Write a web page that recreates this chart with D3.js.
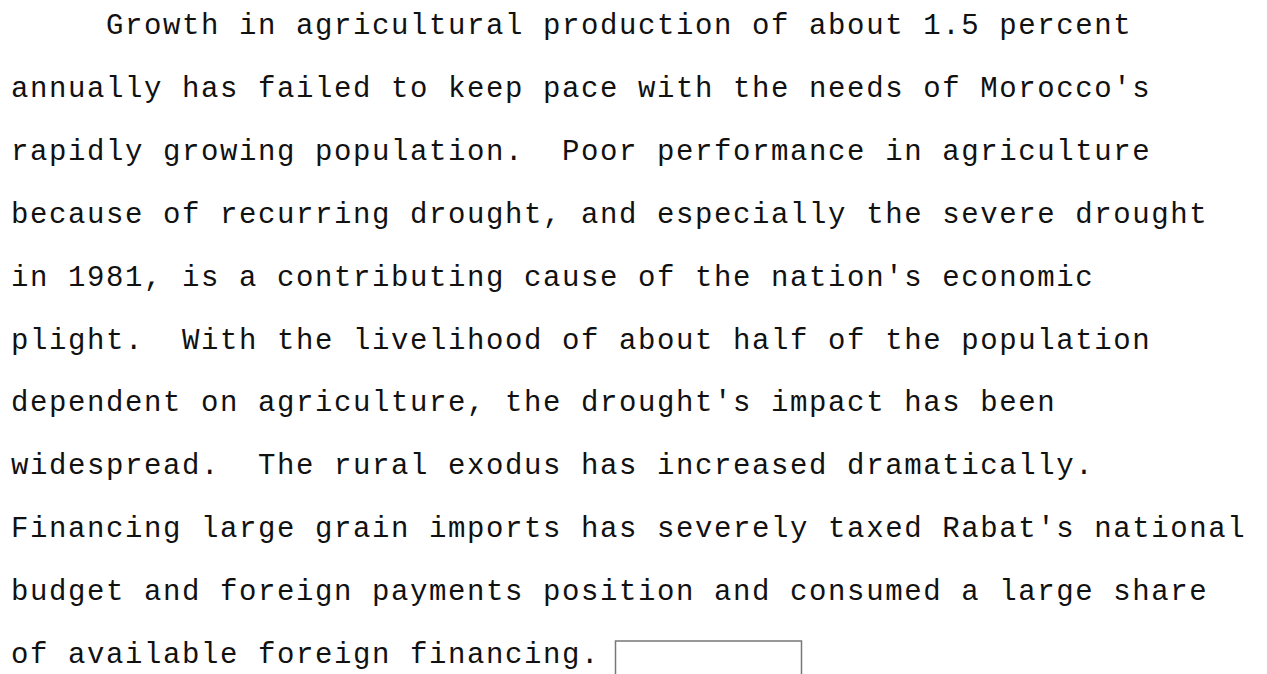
<!DOCTYPE html>
<html>
<head>
<meta charset="utf-8">
<script src="https://cdn.jsdelivr.net/npm/d3@7"></script>
<style>
  html, body { margin: 0; padding: 0; background: #fff; }
  svg { display: block; }
  .line { font-family: "Liberation Mono", "DejaVu Sans Mono", monospace; font-size: 29px; letter-spacing: 1.6px; fill: #111; }
</style>
</head>
<body>
<svg id="page" width="1267" height="674"></svg>
<script>
// typed paragraph, one entry per printed line (first line carries the tab indent)
const LINES = [
  '     Growth in agricultural production of about 1.5 percent',
  "annually has failed to keep pace with the needs of Morocco's",
  'rapidly growing population.  Poor performance in agriculture',
  'because of recurring drought, and especially the severe drought',
  "in 1981, is a contributing cause of the nation's economic",
  'plight.  With the livelihood of about half of the population',
  "dependent on agriculture, the drought's impact has been",
  'widespread.  The rural exodus has increased dramatically.',
  "Financing large grain imports has severely taxed Rabat's national",
  'budget and foreign payments position and consumed a large share',
  'of available foreign financing.'
];
// blank redaction box after the last line, in character columns
const BOX_COLS = [32, 42];

const W = 1267, H = 674;
const svg = d3.select('#page');

// baselines of first and last typed line
const y = d3.scaleLinear().domain([0, LINES.length - 1]).range([34, 663]);
// one column = one typewriter character (pitch ~19px)
const col = d3.scaleLinear().domain([0, 65]).range([11, 1246]);

svg.selectAll('text.line')
  .data(LINES)
  .join('text')
  .attr('class', 'line')
  .attr('xml:space', 'preserve')
  .style('white-space', 'pre')
  .attr('x', col(0))
  .attr('y', (d, i) => y(i))
  .text(d => d);

svg.append('rect')
  .attr('x', col(BOX_COLS[0]) - 3.5)
  .attr('y', 641)
  .attr('width', col(BOX_COLS[1]) - col(BOX_COLS[0]) - 4)
  .attr('height', 60)
  .attr('fill', 'none')
  .attr('stroke', '#777')
  .attr('stroke-width', 1.5);
</script>
</body>
</html>
